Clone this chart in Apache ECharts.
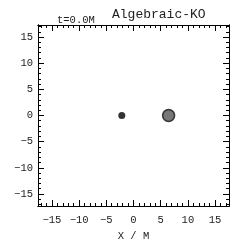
<!DOCTYPE html>
<html><head><meta charset="utf-8">
<script src="https://cdn.jsdelivr.net/npm/echarts@6/dist/echarts.min.js"></script>
<style>html,body{margin:0;padding:0;background:#fff}#c{width:249px;height:249px}</style>
</head><body><div id="c"></div>
<script>
const majorTicks = [-15, -10, -5, 0, 5, 10, 15];
const minorTicks = [-17,-16,-15,-14,-13,-12,-11,-10,-9,-8,-7,-6,-5,-4,-3,-2,-1,0,1,2,3,4,5,6,7,8,9,10,11,12,13,14,15,16,17];
const smallHoleX = [-2.15];
const smallHoleY = [0];
const bigHoleX = [6.45];
const bigHoleY = [0];
const titleText = 'Algebraic-KO';
const timeText = 't=0.0M';

const FONT = '"Liberation Mono", "DejaVu Sans Mono", monospace';
const XR = 17.55, YR = 17.3;
function mkAxis(dim, pos, ticks, len, labels, name) {
  const a = {
    type: 'value', position: pos, min: dim === 'x' ? -XR : -YR, max: dim === 'x' ? XR : YR,
    axisLine: {show: true, onZero: false, lineStyle: {color: '#000', width: 1}},
    axisTick: {show: true, inside: true, length: len, customValues: ticks, lineStyle: {color: '#000', width: 1}},
    axisLabel: labels ? {show: true, customValues: majorTicks, color: '#222', fontFamily: FONT, fontSize: 10.5,
      margin: dim === 'x' ? 9 : 5,
      formatter: v => (v < 0 ? '\u2212' + (-v) : '' + v)} : {show: false},
    splitLine: {show: false}
  };
  if (name) {
    a.name = name; a.nameLocation = 'middle'; a.nameGap = dim === 'x' ? 22 : 32;
    a.nameTextStyle = {fontFamily: FONT, fontSize: 10.5, color: '#222'};
  }
  return a;
}
const chart = echarts.init(document.getElementById('c'));
chart.setOption({
  animation: false,
  grid: {left: 38, right: 20, top: 25, bottom: 43, containLabel: false, outerBoundsMode: 'none'},
  title: [
    {text: titleText, left: 107, top: 3, textStyle: {fontFamily: FONT, fontSize: 13, fontWeight: 'normal', color: '#222'}},
    {text: timeText, left: 52, top: 10, textStyle: {fontFamily: FONT, fontSize: 10.5, fontWeight: 'normal', color: '#222'}}
  ],
  xAxis: [
    mkAxis('x', 'bottom', majorTicks, 6, true, 'X / M'),
    mkAxis('x', 'bottom', minorTicks, 3, false),
    mkAxis('x', 'top', majorTicks, 6, false),
    mkAxis('x', 'top', minorTicks, 3, false)
  ],
  yAxis: [
    mkAxis('y', 'left', majorTicks, 6, true, 'Y / M'),
    mkAxis('y', 'left', minorTicks, 3, false),
    mkAxis('y', 'right', majorTicks, 6, false),
    mkAxis('y', 'right', minorTicks, 3, false)
  ],
  series: [
    {type: 'scatter', xAxisIndex: 0, yAxisIndex: 0, symbolSize: 7,
     itemStyle: {color: '#000'}, data: smallHoleX.map((x, i) => [x, smallHoleY[i]])},
    {type: 'scatter', xAxisIndex: 0, yAxisIndex: 0, symbolSize: 12,
     itemStyle: {color: '#555', borderColor: '#111', borderWidth: 1.5}, data: bigHoleX.map((x, i) => [x, bigHoleY[i]])}
  ]
});
</script></body></html>
